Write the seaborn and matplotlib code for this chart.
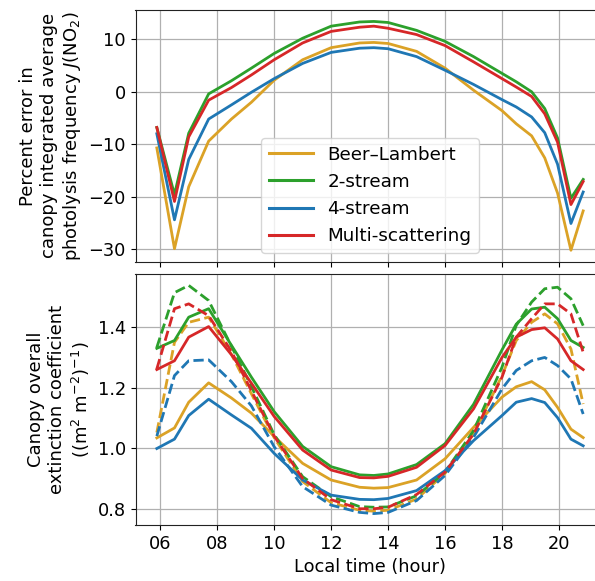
import numpy as np
import pandas as pd
import matplotlib
matplotlib.use("Agg")
import matplotlib.pyplot as plt
import seaborn as sns

# Local solar times of the model output (hours)
hours = [5.88, 6.5, 7.0, 7.7, 8.5, 9.2, 10, 11, 12, 13, 13.5, 14, 15, 16,
         17, 18, 18.5, 19.04, 19.5, 19.95, 20.42, 20.85]

models = ["Beer–Lambert", "2-stream", "4-stream", "Multi-scattering"]
colors = ["#dba226", "#2ca02c", "#1f77b4", "#d62728"]

# Percent error in canopy-integrated average J(NO2)
err_beer = [-10.7, -29.9, -18.1, -9.4, -5.2, -2.0, 2.2, 6.1, 8.4, 9.3, 9.4, 9.2,
            7.7, 4.5, 0.3, -3.6, -6.1, -8.4, -12.6, -19.3, -30.2, -22.7]
err_2s = [-6.8, -19.6, -7.9, -0.4, 2.1, 4.5, 7.3, 10.2, 12.5, 13.3, 13.4, 13.2,
          11.7, 9.6, 6.7, 3.5, 1.9, 0.0, -3.2, -8.8, -20.3, -16.7]
err_4s = [-8.0, -24.4, -12.9, -5.2, -2.5, -0.1, 2.5, 5.4, 7.5, 8.3, 8.4, 8.2,
          6.7, 4.1, 1.4, -1.5, -2.9, -4.8, -7.8, -13.8, -25.1, -19.1]
err_ms = [-6.8, -20.9, -8.6, -1.6, 0.8, 3.2, 6.1, 9.3, 11.5, 12.3, 12.5, 12.1,
          10.9, 8.8, 5.7, 2.5, 0.9, -0.9, -4.2, -9.6, -21.5, -17.1]

# Canopy overall extinction coefficient, case "a" (solid) and case "b" (dashed)
k_beer_a = [1.034, 1.067, 1.152, 1.216, 1.166, 1.116, 1.039, 0.950, 0.895, 0.871, 0.868,
            0.870, 0.895, 0.965, 1.069, 1.169, 1.203, 1.220, 1.193, 1.135, 1.063, 1.035]
k_2s_a = [1.330, 1.356, 1.433, 1.461, 1.340, 1.235, 1.121, 1.006, 0.939, 0.912, 0.910,
          0.915, 0.946, 1.015, 1.145, 1.325, 1.410, 1.460, 1.466, 1.428, 1.356, 1.333]
k_4s_a = [0.999, 1.030, 1.108, 1.162, 1.110, 1.066, 0.983, 0.895, 0.845, 0.831, 0.830,
          0.834, 0.860, 0.926, 1.025, 1.108, 1.152, 1.164, 1.151, 1.101, 1.030, 1.008]
k_ms_a = [1.260, 1.289, 1.367, 1.402, 1.309, 1.215, 1.105, 0.994, 0.928, 0.903, 0.902,
          0.907, 0.937, 1.009, 1.130, 1.300, 1.367, 1.392, 1.398, 1.361, 1.289, 1.260]

k_beer_b = [1.052, 1.350, 1.416, 1.433, 1.310, 1.180, 1.035, 0.890, 0.820, 0.795, 0.792,
            0.795, 0.832, 0.917, 1.047, 1.240, 1.356, 1.416, 1.444, 1.411, 1.328, 1.146]
k_2s_b = [1.333, 1.514, 1.538, 1.488, 1.337, 1.204, 1.045, 0.906, 0.840, 0.807, 0.805,
          0.806, 0.843, 0.921, 1.058, 1.268, 1.406, 1.483, 1.527, 1.532, 1.494, 1.405]
k_4s_b = [1.040, 1.240, 1.289, 1.292, 1.220, 1.140, 1.005, 0.873, 0.812, 0.788, 0.784,
          0.788, 0.827, 0.910, 1.036, 1.196, 1.257, 1.289, 1.300, 1.273, 1.229, 1.113]
k_ms_b = [1.262, 1.461, 1.477, 1.438, 1.320, 1.190, 1.040, 0.900, 0.830, 0.800, 0.800,
          0.805, 0.847, 0.921, 1.047, 1.235, 1.367, 1.428, 1.477, 1.477, 1.444, 1.317]

xticks = [6, 8, 10, 12, 14, 16, 18, 20]
xticklabels = ["06", "08", "10", "12", "14", "16", "18", "20"]

# Long-form tables
err_df = pd.concat(
    [pd.DataFrame({"time": hours, "err": v, "model": m})
     for m, v in zip(models, [err_beer, err_2s, err_4s, err_ms])],
    ignore_index=True)

k_rows = []
for m, va, vb in zip(models, [k_beer_a, k_2s_a, k_4s_a, k_ms_a],
                     [k_beer_b, k_2s_b, k_4s_b, k_ms_b]):
    k_rows.append(pd.DataFrame({"time": hours, "k": va, "model": m, "case": "a"}))
    k_rows.append(pd.DataFrame({"time": hours, "k": vb, "model": m, "case": "b"}))
k_df = pd.concat(k_rows, ignore_index=True)

palette = dict(zip(models, colors))

plt.rcParams["font.family"] = ["DejaVu Sans"]
plt.rcParams["font.size"] = 12.5

fig = plt.figure(figsize=(5.95, 5.81), dpi=100)
W, H = 595.0, 581.0
x0, x1 = 135.5 / W, 604.5 / W
ax1 = fig.add_axes([x0, 1 - 261.7 / H, x1 - x0, (261.7 - 10) / H])
ax2 = fig.add_axes([x0, 1 - 525 / H, x1 - x0, (525 - 274) / H], sharex=ax1)

sns.lineplot(data=err_df, x="time", y="err", hue="model", hue_order=models,
             palette=palette, linewidth=2, ax=ax1, legend=False)
for m, c in zip(models, colors):
    ax1.plot([], [], color=c, lw=2.2, label=m)
ax1.legend(loc="lower center", fontsize=13.2, handlelength=2.4, framealpha=0.8)

sns.lineplot(data=k_df, x="time", y="k", hue="model", hue_order=models,
             style="case", style_order=["a", "b"],
             dashes={"a": "", "b": (3.7, 1.6)},
             palette=palette, linewidth=2, ax=ax2, legend=False)

for ax in (ax1, ax2):
    ax.grid(True, color="#b0b0b0", linewidth=0.9)
    ax.set_axisbelow(True)
    for s in ax.spines.values():
        s.set_color("#222222")
    ax.tick_params(labelsize=12.8)

ax1.set_xticks(xticks)
ax2.set_xticks(xticks)
ax2.set_xticklabels(xticklabels)
ax1.tick_params(labelbottom=False)
ax1.set_xlabel("")
ax2.set_xlabel("Local time (hour)", fontsize=12.8)

ax1.set_yticks([-30, -20, -10, 0, 10])
ax2.set_yticks([0.8, 1.0, 1.2, 1.4])

ax1.set_ylabel("Percent error in\ncanopy integrated average\n"
               "photolysis frequency $J$(NO$_2$)", fontsize=13)
ax2.set_ylabel("Canopy overall\nextinction coefficient\n"
               "((m$^2$ m$^{-2}$)$^{-1}$)", fontsize=13)
fig.align_ylabels([ax1, ax2])

fig.savefig("out.png", dpi=100)
